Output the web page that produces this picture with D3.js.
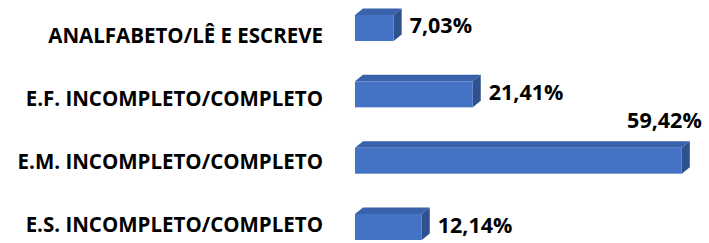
<!DOCTYPE html>
<html>
<head>
<meta charset="utf-8">
<script src="https://cdn.jsdelivr.net/npm/d3@7"></script>
<style>
  html, body { margin: 0; padding: 0; background: #ffffff; }
  svg { display: block; }
  text { font-family: "Open Sans", "Noto Sans", "Liberation Sans", sans-serif; font-weight: bold; fill: #000; }
</style>
</head>
<body>
<svg id="chart" width="709" height="243"></svg>
<script>
// ---- data ----
const categories = [
  "ANALFABETO/LÊ E ESCREVE",
  "E.F. INCOMPLETO/COMPLETO",
  "E.M. INCOMPLETO/COMPLETO",
  "E.S. INCOMPLETO/COMPLETO"
];
const values = [7.03, 21.41, 59.42, 12.14];
const valueLabels = ["7,03%", "21,41%", "59,42%", "12,14%"];

// ---- layout ----
const W = 709, H = 243;
const svg = d3.select("#chart");
const depthX = 8, depthY = 6.5;

const x = d3.scaleLinear().domain([0, 60]).range([355, 685]);
const y = d3.scaleBand().domain(categories).range([1.7, 253.3]).paddingInner(0.608).paddingOuter(0.2);
const yLabel = d3.scalePoint().domain(categories).range([36, 225]);

const data = categories.map((c, i) => ({ cat: c, value: values[i], label: valueLabels[i] }));

const colFront = "#4472c4", colTop = "#3a62ab", colSide = "#2f528f";

const g = svg.append("g");
const bars = g.selectAll("g.bar").data(data).join("g").attr("class", "bar");

// top face
bars.append("path")
  .attr("fill", colTop)
  .attr("d", d => {
    const x0 = x(0), x1 = x(d.value), yt = y(d.cat);
    return `M${x0},${yt}L${x0 + depthX},${yt - depthY}L${x1 + depthX},${yt - depthY}L${x1},${yt}Z`;
  });
// right face
bars.append("path")
  .attr("fill", colSide)
  .attr("d", d => {
    const x1 = x(d.value), yt = y(d.cat), yb = yt + y.bandwidth();
    return `M${x1},${yt}L${x1 + depthX},${yt - depthY}L${x1 + depthX},${yb - depthY}L${x1},${yb}Z`;
  });
// front face
bars.append("rect")
  .attr("fill", colFront)
  .attr("x", x(0))
  .attr("y", d => y(d.cat))
  .attr("width", d => x(d.value) - x(0))
  .attr("height", y.bandwidth());

// category labels
g.selectAll("text.cat").data(data).join("text")
  .attr("class", "cat")
  .attr("x", 323)
  .attr("y", d => yLabel(d.cat))
  .attr("dy", "0.36em")
  .attr("text-anchor", "end")
  .style("font-size", "20.5px")
  .text(d => d.cat);

// value labels
g.selectAll("text.val").data(data).join("text")
  .attr("class", "val")
  .style("font-size", "21.5px")
  .each(function(d) {
    const t = d3.select(this).text(d.label);
    const xr = x(d.value) + depthX;
    const w = this.getComputedTextLength();
    if (xr + 10 + w > W) {
      t.attr("x", xr + 12).attr("text-anchor", "end")
       .attr("y", y(d.cat) - depthY - 21).attr("dy", "0.36em");
    } else {
      t.attr("x", xr + 8).attr("text-anchor", "start")
       .attr("y", y(d.cat) + y.bandwidth() / 2 - depthY / 2 + 1).attr("dy", "0.36em");
    }
  });
</script>
</body>
</html>
